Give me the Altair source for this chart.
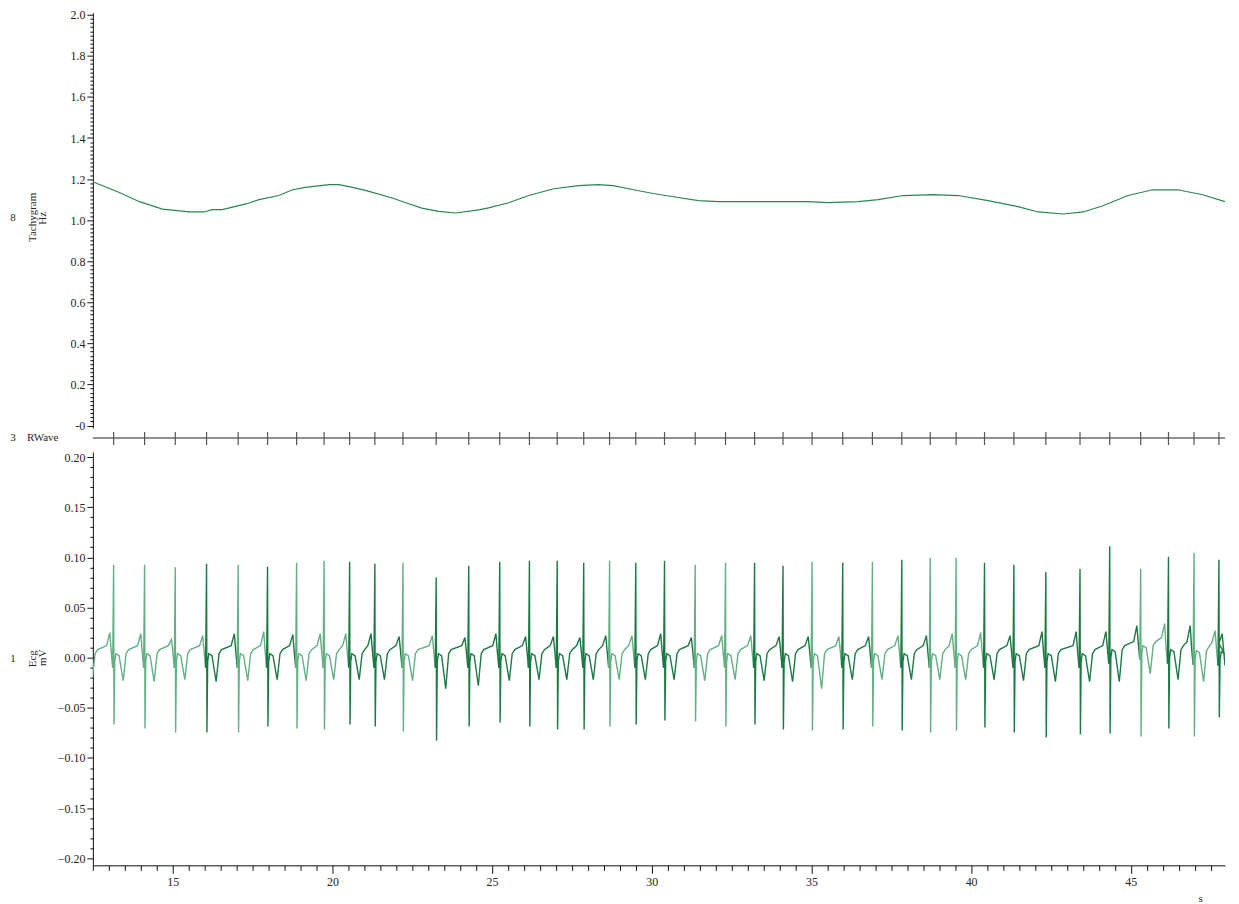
import altair as alt
import pandas as pd

FONT = "Liberation Serif"
X_DOMAIN = [12.5, 47.95]
W = 1134
TACHY_COLOR = "#27884f"
DARK = "#1b7a43"
LIGHT = "#62b083"
TXT = "#262626"

# ---------------- Tachygram (s, Hz) ----------------
tachy_time = [12.5, 13.33, 13.96, 14.68, 15.52, 15.99, 16.24, 16.55, 17.30, 17.70, 18.33,
              18.73, 19.15, 19.90, 20.21, 20.74, 21.15, 21.87, 22.30, 22.80, 23.33, 23.86,
              24.58, 24.89, 25.52, 26.15, 26.93, 27.71, 28.33, 28.80, 29.43, 30.05, 30.68,
              31.46, 32.08, 33.02, 33.96, 34.90, 35.52, 36.46, 37.09, 37.87, 38.81, 39.60,
              40.53, 41.47, 42.10, 42.88, 43.51, 44.13, 44.91, 45.69, 46.47, 47.25, 47.95]
tachy_hz = [1.187, 1.135, 1.090, 1.054, 1.040, 1.040, 1.051, 1.051, 1.079, 1.100, 1.120,
            1.147, 1.160, 1.173, 1.173, 1.156, 1.140, 1.108, 1.085, 1.059, 1.043, 1.035,
            1.050, 1.060, 1.085, 1.120, 1.153, 1.168, 1.173, 1.168, 1.148, 1.130, 1.114,
            1.095, 1.090, 1.090, 1.090, 1.090, 1.085, 1.090, 1.100, 1.120, 1.124, 1.120,
            1.095, 1.066, 1.040, 1.030, 1.040, 1.070, 1.120, 1.148, 1.148, 1.124, 1.090]

# ---------------- R-wave times (s); first lies just before the window ----------------
r_time = [12.18, 13.15, 14.12, 15.08, 16.06, 17.05, 17.97, 18.88, 19.74, 20.54, 21.33,
          22.21, 23.25, 24.27, 25.24, 26.17, 27.04, 27.87, 28.68, 29.50, 30.40, 31.36,
          32.31, 33.22, 34.11, 35.02, 35.98, 36.91, 37.83, 38.72, 39.53, 40.42, 41.34,
          42.34, 43.41, 44.34, 45.31, 46.18, 46.98, 47.76]

# ---------------- ECG per-beat readings (mV) ----------------
r_peak = [0.090, 0.0925, 0.0925, 0.090, 0.0935, 0.0925, 0.0905, 0.0945, 0.0965, 0.0955,
          0.0935, 0.0945, 0.080, 0.0915, 0.0955, 0.0965, 0.0965, 0.0945, 0.0965, 0.0945,
          0.0965, 0.0925, 0.0945, 0.0945, 0.0915, 0.0955, 0.0945, 0.0955, 0.0975, 0.0995,
          0.0995, 0.0945, 0.0925, 0.0855, 0.0885, 0.111, 0.0885, 0.1005, 0.1045, 0.0975]
s_trough = [-0.070, -0.0667, -0.0706, -0.0746, -0.0746, -0.0746, -0.0687, -0.0706, -0.0716,
            -0.0667, -0.0687, -0.0736, -0.0826, -0.0687, -0.0647, -0.0687, -0.0716, -0.0716,
            -0.0687, -0.0667, -0.0627, -0.0637, -0.0687, -0.0667, -0.0716, -0.0726, -0.0716,
            -0.0687, -0.0726, -0.0746, -0.0726, -0.0697, -0.0746, -0.0796, -0.0766, -0.0756,
            -0.0786, -0.0706, -0.0786, -0.0597]
t_trough = [-0.022, -0.023, -0.024, -0.022, -0.024, -0.023, -0.022, -0.023, -0.022, -0.022,
            -0.022, -0.023, -0.031, -0.028, -0.023, -0.022, -0.022, -0.022, -0.022, -0.022,
            -0.022, -0.023, -0.022, -0.023, -0.024, -0.031, -0.022, -0.022, -0.022, -0.022,
            -0.022, -0.022, -0.023, -0.024, -0.024, -0.028, -0.024, -0.026, -0.027, -0.024]
pre_bump = [0.025, 0.024, 0.018, 0.022, 0.024, 0.026, 0.023, 0.024, 0.024, 0.024, 0.021,
            0.022, 0.020, 0.024, 0.021, 0.021, 0.020, 0.022, 0.022, 0.024, 0.020, 0.022,
            0.022, 0.021, 0.021, 0.021, 0.021, 0.022, 0.022, 0.024, 0.025, 0.022, 0.026,
            0.026, 0.026, 0.028, 0.026, 0.028, 0.024, 0.022]
base_shift = [0, 0, 0, 0, 0, 0, 0, 0, 0, 0, 0, 0, 0, 0, 0, 0, 0, 0, 0, 0,
              0, 0, 0, 0, 0, 0, 0, 0, 0, 0, 0, 0, 0, 0, 0, 0.004, 0.008, 0.004, 0.003, 0.002]
beat_shade = ["light", "light", "light", "light", "dark", "light", "dark", "light", "light",
              "dark", "dark", "light", "dark", "dark", "dark", "dark", "dark", "dark", "light",
              "dark", "dark", "light", "light", "dark", "dark", "light", "dark", "light", "dark",
              "light", "light", "dark", "dark", "dark", "dark", "dark", "light", "dark", "light",
              "dark"]
noise_halfwidth = 0.0019  # half thickness of the noisy trace band (mV)

# build ECG polyline: each beat segment runs from the dip before its R wave to the dip before the next
rows = []
n = len(r_time)
for i in range(n):
    t0 = r_time[i]
    t1 = r_time[i + 1] if i + 1 < n else X_DOMAIN[1] + 0.03
    b = base_shift[i]
    bn = base_shift[i + 1] if i + 1 < n else b
    pts = [
        (t0 - 0.03, -0.010 + b),
        (t0, r_peak[i]),
        (t0 + 0.012, s_trough[i]),
        (t0 + 0.035, -0.004 + b),
        (t0 + 0.07, 0.004 + b),
        (t0 + 0.17, 0.002 + b),
        (t0 + 0.30, t_trough[i] + b),
        (t0 + 0.39, 0.004 + b),
        (t0 + 0.47, 0.008 + b),
        (t1 - 0.22, 0.012 + b),
        (t1 - 0.12, pre_bump[i] + b),
        (t1 - 0.075, 0.006 + bn),
        (t1 - 0.03, -0.010 + bn),
    ]
    for k, (tt, vv) in enumerate(pts):
        if tt <= X_DOMAIN[1] + 0.05:
            rows.append({"t": tt, "mv": vv, "lo": vv - noise_halfwidth, "hi": vv + noise_halfwidth,
                         "seg": i, "ord": k, "shade": beat_shade[i]})
ecg_df = pd.DataFrame(rows)
tachy_df = pd.DataFrame({"t": tachy_time, "hz": tachy_hz})
rw_df = pd.DataFrame({"t": r_time[1:]})
one = pd.DataFrame({"k": [0]})
# invisible helper rows that only carry the minor-tick axes (inside the plot area)
helper_df = pd.DataFrame({"t": [20.0, 40.0], "hz": [1.0, 1.0], "mv": [0.0, 0.0]})

xs = alt.Scale(domain=X_DOMAIN, nice=False, zero=False)
ax_common = dict(labelFont=FONT, labelFontSize=12, labelColor=TXT, tickColor="#111111",
                 domainColor="#111111", grid=False, tickWidth=1, domainWidth=1)


def label(text, x, y, angle=0, align="center"):
    return alt.Chart(pd.DataFrame({"txt": [text]})).mark_text(
        font=FONT, fontSize=11, color=TXT, angle=angle, align=align, baseline="middle"
    ).encode(x=alt.value(x), y=alt.value(y), text="txt:N")


# ---------------- Tachygram panel ----------------
t_major = [round(0.2 * i, 1) for i in range(11)]
t_minor = [round(0.02 * i, 2) for i in range(101) if i % 10 != 0]
ys_t = alt.Scale(domain=[-0.012, 2.01], nice=False, zero=False)
tachy_line = alt.Chart(tachy_df).mark_line(color=TACHY_COLOR, strokeWidth=1.2, clip=True).encode(
    x=alt.X("t:Q", scale=xs, axis=None),
    y=alt.Y("hz:Q", scale=ys_t, axis=alt.Axis(
        orient="left", values=t_major, tickSize=6, labelPadding=2, title=None,
        labelExpr="datum.value == 0 ? '-0' : format(datum.value, '.1f')", **ax_common)),
)
tachy_minor = alt.Chart(helper_df).mark_point(opacity=0).encode(
    x=alt.X("t:Q", scale=xs, axis=None),
    y=alt.Y("hz:Q", scale=ys_t, axis=alt.Axis(
        orient="left", values=t_minor, tickSize=3, labels=False, domain=False, title=None,
        **ax_common)),
)
top = alt.layer(
    tachy_line, tachy_minor,
    label("8", -80, 206), label("Tachygram", -60, 205, angle=270), label("Hz", -50, 206, angle=270),
).resolve_axis(y="independent").properties(width=W, height=416)

# ---------------- RWave panel ----------------
rw_line = alt.Chart(one).mark_rule(color="#222222", strokeWidth=1).encode(
    x=alt.value(0), x2=alt.value(W), y=alt.value(10))
rw_ticks = alt.Chart(rw_df).mark_rule(color="#555555", strokeWidth=1.2).encode(
    x=alt.X("t:Q", scale=xs, axis=None), y=alt.value(4), y2=alt.value(17))
mid = alt.layer(rw_line, rw_ticks, label("3", -80, 10), label("RWave", -66, 10, align="left")
                ).properties(width=W, height=24)

# ---------------- ECG panel ----------------
e_major = [round(-0.2 + 0.05 * i, 2) for i in range(9)]
e_minor = [round(-0.2 + 0.01 * i, 2) for i in range(41) if i % 5 != 0]
x_major = [15, 20, 25, 30, 35, 40, 45]
x_minor = [12.5 + 0.5 * i for i in range(71) if (12.5 + 0.5 * i) % 5 != 0]
ys_e = alt.Scale(domain=[-0.207, 0.205], nice=False, zero=False)
shade_scale = alt.Scale(domain=["dark", "light"], range=[DARK, LIGHT])
ecg_band = alt.Chart(ecg_df).mark_area(opacity=0.6, clip=True).encode(
    x=alt.X("t:Q", scale=xs, axis=None),
    y=alt.Y("lo:Q", scale=ys_e, axis=None),
    y2="hi:Q",
    color=alt.Color("shade:N", scale=shade_scale, legend=None),
    detail="seg:N",
    order="ord:Q",
)
ecg_line = alt.Chart(ecg_df).mark_line(strokeWidth=1.4, clip=True).encode(
    x=alt.X("t:Q", scale=xs, axis=alt.Axis(
        orient="bottom", values=x_major, tickSize=8, labelPadding=3, format="d",
        title="s", titleFont=FONT, titleFontSize=11, titleFontWeight="normal", titleColor=TXT,
        titleX=1109, titleY=33, titleAlign="center", titleBaseline="middle", **ax_common)),
    y=alt.Y("mv:Q", scale=ys_e, axis=alt.Axis(
        orient="left", values=e_major, tickSize=6, labelPadding=2, format=".2f", title=None,
        **ax_common)),
    color=alt.Color("shade:N", scale=shade_scale, legend=None),
    detail="seg:N",
    order="ord:Q",
)
ecg_minor = alt.Chart(helper_df).mark_point(opacity=0).encode(
    x=alt.X("t:Q", scale=xs, axis=alt.Axis(
        orient="bottom", values=x_minor, tickSize=5, labels=False, domain=False, title=None,
        **ax_common)),
    y=alt.Y("mv:Q", scale=ys_e, axis=alt.Axis(
        orient="left", values=e_minor, tickSize=3, labels=False, domain=False, title=None,
        **ax_common)),
)
bottom = alt.layer(
    ecg_line, ecg_band, ecg_minor,
    label("1", -80, 207), label("Ecg", -60, 207, angle=270), label("mV", -50, 206, angle=270),
).resolve_axis(x="independent", y="independent").properties(width=W, height=414)

chart = alt.vconcat(top, mid, bottom, spacing=0, bounds="flush").configure_view(
    stroke=None).properties(padding={"left": 2, "top": 0, "right": 5, "bottom": 0})

chart.save("out.html", embed_options={"renderer": "svg", "actions": False})
